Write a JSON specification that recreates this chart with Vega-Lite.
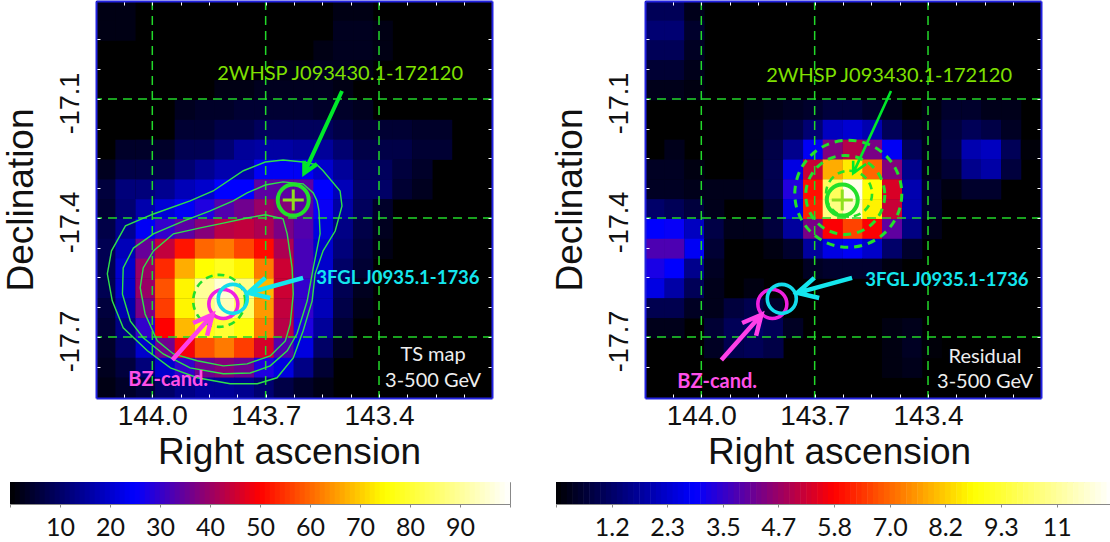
{"$schema":"https://vega.github.io/schema/vega-lite/v6.json","padding":{"left":0,"top":-2,"right":0,"bottom":0},"background":"white","spacing":9,"resolve":{"scale":{"color":"independent"}},
"config":{"view":{"stroke":null},"axis":{"grid":false,"labelFontSize":28,"labelFont":"Liberation Sans","titleFont":"Liberation Sans","titleFontSize":37,"titleFontWeight":"normal","labelColor":"#111","titleColor":"#111","labelOverlap":false,"labelBound":false,"labelFlush":false}},
"datasets":{
"ts":[
{"ra":144.123,"dec":-16.878,"v":2},{"ra":144.071,"dec":-16.878,"v":2},{"ra":143.495,"dec":-16.878,"v":2},{"ra":143.442,"dec":-16.878,"v":2},
{"ra":144.123,"dec":-16.928,"v":2},{"ra":144.071,"dec":-16.928,"v":2},{"ra":143.495,"dec":-16.928,"v":3},{"ra":143.442,"dec":-16.928,"v":3},{"ra":143.390,"dec":-16.928,"v":2},
{"ra":143.547,"dec":-16.978,"v":2},{"ra":143.495,"dec":-16.978,"v":3},{"ra":143.442,"dec":-16.978,"v":3},{"ra":143.390,"dec":-16.978,"v":2},
{"ra":143.652,"dec":-17.028,"v":2},{"ra":143.599,"dec":-17.028,"v":2},{"ra":143.547,"dec":-17.028,"v":3},{"ra":143.495,"dec":-17.028,"v":3},{"ra":143.442,"dec":-17.028,"v":2},
{"ra":143.809,"dec":-17.078,"v":2},{"ra":143.757,"dec":-17.078,"v":2},{"ra":143.704,"dec":-17.078,"v":3},{"ra":143.652,"dec":-17.078,"v":3},{"ra":143.599,"dec":-17.078,"v":3},{"ra":143.547,"dec":-17.078,"v":3},{"ra":143.495,"dec":-17.078,"v":2},
{"ra":143.914,"dec":-17.128,"v":3},{"ra":143.861,"dec":-17.128,"v":4},{"ra":143.809,"dec":-17.128,"v":4},{"ra":143.757,"dec":-17.128,"v":5},{"ra":143.704,"dec":-17.128,"v":5},{"ra":143.652,"dec":-17.128,"v":5},{"ra":143.599,"dec":-17.128,"v":5},{"ra":143.547,"dec":-17.128,"v":4},{"ra":143.495,"dec":-17.128,"v":4},{"ra":143.442,"dec":-17.128,"v":3},
{"ra":143.914,"dec":-17.178,"v":5},{"ra":143.861,"dec":-17.178,"v":5},{"ra":143.809,"dec":-17.178,"v":7},{"ra":143.757,"dec":-17.178,"v":7},{"ra":143.704,"dec":-17.178,"v":9},{"ra":143.652,"dec":-17.178,"v":9},{"ra":143.599,"dec":-17.178,"v":9},{"ra":143.547,"dec":-17.178,"v":9},{"ra":143.495,"dec":-17.178,"v":7},{"ra":143.442,"dec":-17.178,"v":5},{"ra":143.390,"dec":-17.178,"v":5},{"ra":143.338,"dec":-17.178,"v":5},{"ra":143.285,"dec":-17.178,"v":4},{"ra":143.233,"dec":-17.178,"v":4},
{"ra":144.071,"dec":-17.228,"v":4},{"ra":144.018,"dec":-17.228,"v":4},{"ra":143.966,"dec":-17.228,"v":4},{"ra":143.914,"dec":-17.228,"v":8},{"ra":143.861,"dec":-17.228,"v":8},{"ra":143.809,"dec":-17.228,"v":11},{"ra":143.757,"dec":-17.228,"v":15},{"ra":143.704,"dec":-17.228,"v":16},{"ra":143.652,"dec":-17.228,"v":16},{"ra":143.599,"dec":-17.228,"v":15},{"ra":143.547,"dec":-17.228,"v":15},{"ra":143.495,"dec":-17.228,"v":11},{"ra":143.442,"dec":-17.228,"v":7},{"ra":143.390,"dec":-17.228,"v":7},{"ra":143.338,"dec":-17.228,"v":7},{"ra":143.285,"dec":-17.228,"v":5},{"ra":143.233,"dec":-17.228,"v":5},
{"ra":144.123,"dec":-17.278,"v":3},{"ra":144.071,"dec":-17.278,"v":7},{"ra":144.018,"dec":-17.278,"v":7},{"ra":143.966,"dec":-17.278,"v":7},{"ra":143.914,"dec":-17.278,"v":11},{"ra":143.861,"dec":-17.278,"v":14},{"ra":143.809,"dec":-17.278,"v":17},{"ra":143.757,"dec":-17.278,"v":17},{"ra":143.704,"dec":-17.278,"v":24},{"ra":143.652,"dec":-17.278,"v":24},{"ra":143.599,"dec":-17.278,"v":24},{"ra":143.547,"dec":-17.278,"v":20},{"ra":143.495,"dec":-17.278,"v":15},{"ra":143.442,"dec":-17.278,"v":9},{"ra":143.390,"dec":-17.278,"v":9},{"ra":143.338,"dec":-17.278,"v":6},{"ra":143.285,"dec":-17.278,"v":4},
{"ra":144.123,"dec":-17.328,"v":6},{"ra":144.071,"dec":-17.328,"v":12},{"ra":144.018,"dec":-17.328,"v":12},{"ra":143.966,"dec":-17.328,"v":14},{"ra":143.914,"dec":-17.328,"v":18},{"ra":143.861,"dec":-17.328,"v":20},{"ra":143.809,"dec":-17.328,"v":25},{"ra":143.757,"dec":-17.328,"v":25},{"ra":143.704,"dec":-17.328,"v":34},{"ra":143.652,"dec":-17.328,"v":34},{"ra":143.599,"dec":-17.328,"v":34},{"ra":143.547,"dec":-17.328,"v":25},{"ra":143.495,"dec":-17.328,"v":18},{"ra":143.442,"dec":-17.328,"v":10},{"ra":143.390,"dec":-17.328,"v":10},{"ra":143.338,"dec":-17.328,"v":5},{"ra":143.285,"dec":-17.328,"v":3},
{"ra":144.123,"dec":-17.378,"v":5},{"ra":144.071,"dec":-17.378,"v":11},{"ra":144.018,"dec":-17.378,"v":17},{"ra":143.966,"dec":-17.378,"v":21},{"ra":143.914,"dec":-17.378,"v":24},{"ra":143.861,"dec":-17.378,"v":28},{"ra":143.809,"dec":-17.378,"v":33},{"ra":143.757,"dec":-17.378,"v":36},{"ra":143.704,"dec":-17.378,"v":40},{"ra":143.652,"dec":-17.378,"v":38},{"ra":143.599,"dec":-17.378,"v":34},{"ra":143.547,"dec":-17.378,"v":26},{"ra":143.495,"dec":-17.378,"v":16},{"ra":143.442,"dec":-17.378,"v":9},{"ra":143.390,"dec":-17.378,"v":4},
{"ra":144.123,"dec":-17.428,"v":7},{"ra":144.071,"dec":-17.428,"v":14},{"ra":144.018,"dec":-17.428,"v":24},{"ra":143.966,"dec":-17.428,"v":30},{"ra":143.914,"dec":-17.428,"v":34},{"ra":143.861,"dec":-17.428,"v":38},{"ra":143.809,"dec":-17.428,"v":43},{"ra":143.757,"dec":-17.428,"v":44},{"ra":143.704,"dec":-17.428,"v":42},{"ra":143.652,"dec":-17.428,"v":37},{"ra":143.599,"dec":-17.428,"v":33},{"ra":143.547,"dec":-17.428,"v":22},{"ra":143.495,"dec":-17.428,"v":13},{"ra":143.442,"dec":-17.428,"v":7},{"ra":143.390,"dec":-17.428,"v":3},
{"ra":144.123,"dec":-17.478,"v":8},{"ra":144.071,"dec":-17.478,"v":18},{"ra":144.018,"dec":-17.478,"v":35},{"ra":143.966,"dec":-17.478,"v":44},{"ra":143.914,"dec":-17.478,"v":52},{"ra":143.861,"dec":-17.478,"v":60},{"ra":143.809,"dec":-17.478,"v":62},{"ra":143.757,"dec":-17.478,"v":57},{"ra":143.704,"dec":-17.478,"v":51},{"ra":143.652,"dec":-17.478,"v":42},{"ra":143.599,"dec":-17.478,"v":32},{"ra":143.547,"dec":-17.478,"v":20},{"ra":143.495,"dec":-17.478,"v":12},{"ra":143.442,"dec":-17.478,"v":6},{"ra":143.390,"dec":-17.478,"v":2},
{"ra":144.123,"dec":-17.528,"v":8},{"ra":144.071,"dec":-17.528,"v":20},{"ra":144.018,"dec":-17.528,"v":40},{"ra":143.966,"dec":-17.528,"v":54},{"ra":143.914,"dec":-17.528,"v":67},{"ra":143.861,"dec":-17.528,"v":75},{"ra":143.809,"dec":-17.528,"v":78},{"ra":143.757,"dec":-17.528,"v":74},{"ra":143.704,"dec":-17.528,"v":62},{"ra":143.652,"dec":-17.528,"v":45},{"ra":143.599,"dec":-17.528,"v":32},{"ra":143.547,"dec":-17.528,"v":20},{"ra":143.495,"dec":-17.528,"v":10},{"ra":143.442,"dec":-17.528,"v":5},
{"ra":144.123,"dec":-17.578,"v":8},{"ra":144.071,"dec":-17.578,"v":20},{"ra":144.018,"dec":-17.578,"v":40},{"ra":143.966,"dec":-17.578,"v":58},{"ra":143.914,"dec":-17.578,"v":74},{"ra":143.861,"dec":-17.578,"v":90},{"ra":143.809,"dec":-17.578,"v":96},{"ra":143.757,"dec":-17.578,"v":88},{"ra":143.704,"dec":-17.578,"v":68},{"ra":143.652,"dec":-17.578,"v":45},{"ra":143.599,"dec":-17.578,"v":30},{"ra":143.547,"dec":-17.578,"v":18},{"ra":143.495,"dec":-17.578,"v":8},{"ra":143.442,"dec":-17.578,"v":3},
{"ra":144.123,"dec":-17.628,"v":6},{"ra":144.071,"dec":-17.628,"v":17},{"ra":144.018,"dec":-17.628,"v":37},{"ra":143.966,"dec":-17.628,"v":56},{"ra":143.914,"dec":-17.628,"v":74},{"ra":143.861,"dec":-17.628,"v":88},{"ra":143.809,"dec":-17.628,"v":93},{"ra":143.757,"dec":-17.628,"v":85},{"ra":143.704,"dec":-17.628,"v":65},{"ra":143.652,"dec":-17.628,"v":44},{"ra":143.599,"dec":-17.628,"v":30},{"ra":143.547,"dec":-17.628,"v":18},{"ra":143.495,"dec":-17.628,"v":7},{"ra":143.442,"dec":-17.628,"v":2},
{"ra":144.123,"dec":-17.678,"v":5},{"ra":144.071,"dec":-17.678,"v":13},{"ra":144.018,"dec":-17.678,"v":30},{"ra":143.966,"dec":-17.678,"v":50},{"ra":143.914,"dec":-17.678,"v":68},{"ra":143.861,"dec":-17.678,"v":77},{"ra":143.809,"dec":-17.678,"v":80},{"ra":143.757,"dec":-17.678,"v":76},{"ra":143.704,"dec":-17.678,"v":62},{"ra":143.652,"dec":-17.678,"v":43},{"ra":143.599,"dec":-17.678,"v":28},{"ra":143.547,"dec":-17.678,"v":15},{"ra":143.495,"dec":-17.678,"v":5},
{"ra":144.123,"dec":-17.728,"v":4},{"ra":144.071,"dec":-17.728,"v":10},{"ra":144.018,"dec":-17.728,"v":20},{"ra":143.966,"dec":-17.728,"v":36},{"ra":143.914,"dec":-17.728,"v":49},{"ra":143.861,"dec":-17.728,"v":58},{"ra":143.809,"dec":-17.728,"v":62},{"ra":143.757,"dec":-17.728,"v":56},{"ra":143.704,"dec":-17.728,"v":46},{"ra":143.652,"dec":-17.728,"v":33},{"ra":143.599,"dec":-17.728,"v":22},{"ra":143.547,"dec":-17.728,"v":10},{"ra":143.495,"dec":-17.728,"v":3},
{"ra":144.123,"dec":-17.778,"v":3},{"ra":144.071,"dec":-17.778,"v":6},{"ra":144.018,"dec":-17.778,"v":12},{"ra":143.966,"dec":-17.778,"v":20},{"ra":143.914,"dec":-17.778,"v":30},{"ra":143.861,"dec":-17.778,"v":36},{"ra":143.809,"dec":-17.778,"v":38},{"ra":143.757,"dec":-17.778,"v":36},{"ra":143.704,"dec":-17.778,"v":28},{"ra":143.652,"dec":-17.778,"v":22},{"ra":143.599,"dec":-17.778,"v":13},{"ra":143.547,"dec":-17.778,"v":5},
{"ra":144.123,"dec":-17.828,"v":2},{"ra":144.071,"dec":-17.828,"v":4},{"ra":144.018,"dec":-17.828,"v":6},{"ra":143.966,"dec":-17.828,"v":10},{"ra":143.914,"dec":-17.828,"v":13},{"ra":143.861,"dec":-17.828,"v":15},{"ra":143.809,"dec":-17.828,"v":15},{"ra":143.757,"dec":-17.828,"v":14},{"ra":143.704,"dec":-17.828,"v":11},{"ra":143.652,"dec":-17.828,"v":7},{"ra":143.599,"dec":-17.828,"v":4},{"ra":143.547,"dec":-17.828,"v":2}
],
"res":[
{"ra":144.123,"dec":-16.878,"v":1.0},{"ra":144.071,"dec":-16.878,"v":1.0},{"ra":144.018,"dec":-16.878,"v":0.3},
{"ra":144.123,"dec":-16.928,"v":1.3},{"ra":144.071,"dec":-16.928,"v":1.3},{"ra":144.018,"dec":-16.928,"v":0.5},
{"ra":144.123,"dec":-16.978,"v":1.0},{"ra":144.071,"dec":-16.978,"v":1.0},{"ra":144.018,"dec":-16.978,"v":0.4},
{"ra":144.123,"dec":-17.028,"v":0.6},{"ra":144.071,"dec":-17.028,"v":0.6},{"ra":144.018,"dec":-17.028,"v":0.3},
{"ra":144.123,"dec":-17.078,"v":0.3},{"ra":144.071,"dec":-17.078,"v":0.3},{"ra":144.018,"dec":-17.078,"v":0.2},
{"ra":143.861,"dec":-17.128,"v":0.2},{"ra":143.809,"dec":-17.128,"v":0.3},{"ra":143.757,"dec":-17.128,"v":0.4},{"ra":143.704,"dec":-17.128,"v":0.5},{"ra":143.652,"dec":-17.128,"v":0.7},{"ra":143.599,"dec":-17.128,"v":0.7},{"ra":143.547,"dec":-17.128,"v":0.5},{"ra":143.495,"dec":-17.128,"v":0.3},{"ra":143.390,"dec":-17.128,"v":0.2},{"ra":143.338,"dec":-17.128,"v":0.5},{"ra":143.285,"dec":-17.128,"v":0.5},{"ra":143.233,"dec":-17.128,"v":0.3},{"ra":143.180,"dec":-17.128,"v":0.3},
{"ra":143.861,"dec":-17.178,"v":0.3},{"ra":143.809,"dec":-17.178,"v":0.6},{"ra":143.757,"dec":-17.178,"v":0.8},{"ra":143.704,"dec":-17.178,"v":1.3},{"ra":143.652,"dec":-17.178,"v":2.2},{"ra":143.599,"dec":-17.178,"v":2.4},{"ra":143.547,"dec":-17.178,"v":2.0},{"ra":143.495,"dec":-17.178,"v":1.0},{"ra":143.442,"dec":-17.178,"v":0.5},{"ra":143.390,"dec":-17.178,"v":0.3},{"ra":143.338,"dec":-17.178,"v":0.7},{"ra":143.285,"dec":-17.178,"v":1.0},{"ra":143.233,"dec":-17.178,"v":0.8},{"ra":143.180,"dec":-17.178,"v":0.4},
{"ra":144.071,"dec":-17.228,"v":0.3},{"ra":143.861,"dec":-17.228,"v":0.3},{"ra":143.809,"dec":-17.228,"v":0.8},{"ra":143.757,"dec":-17.228,"v":1.6},{"ra":143.704,"dec":-17.228,"v":2.8},{"ra":143.652,"dec":-17.228,"v":4.4},{"ra":143.599,"dec":-17.228,"v":5.0},{"ra":143.547,"dec":-17.228,"v":4.3},{"ra":143.495,"dec":-17.228,"v":2.8},{"ra":143.442,"dec":-17.228,"v":1.0},{"ra":143.390,"dec":-17.228,"v":0.3},{"ra":143.338,"dec":-17.228,"v":0.8},{"ra":143.285,"dec":-17.228,"v":2.0},{"ra":143.233,"dec":-17.228,"v":2.2},{"ra":143.180,"dec":-17.228,"v":1.0},{"ra":143.128,"dec":-17.228,"v":0.1},
{"ra":144.123,"dec":-17.278,"v":0.4},{"ra":144.071,"dec":-17.278,"v":0.4},{"ra":144.018,"dec":-17.278,"v":0.2},{"ra":143.861,"dec":-17.278,"v":0.3},{"ra":143.809,"dec":-17.278,"v":0.9},{"ra":143.757,"dec":-17.278,"v":2.6},{"ra":143.704,"dec":-17.278,"v":5.2},{"ra":143.652,"dec":-17.278,"v":7.8},{"ra":143.599,"dec":-17.278,"v":8.5},{"ra":143.547,"dec":-17.278,"v":7.0},{"ra":143.495,"dec":-17.278,"v":4.4},{"ra":143.442,"dec":-17.278,"v":1.6},{"ra":143.390,"dec":-17.278,"v":0.3},{"ra":143.338,"dec":-17.278,"v":0.6},{"ra":143.285,"dec":-17.278,"v":1.6},{"ra":143.233,"dec":-17.278,"v":1.9},{"ra":143.180,"dec":-17.278,"v":0.7},
{"ra":144.123,"dec":-17.328,"v":0.4},{"ra":144.071,"dec":-17.328,"v":0.4},{"ra":144.018,"dec":-17.328,"v":0.3},{"ra":143.966,"dec":-17.328,"v":0.3},{"ra":143.914,"dec":-17.328,"v":0.3},{"ra":143.861,"dec":-17.328,"v":0.4},{"ra":143.809,"dec":-17.328,"v":0.9},{"ra":143.757,"dec":-17.328,"v":3.3},{"ra":143.704,"dec":-17.328,"v":6.0},{"ra":143.652,"dec":-17.328,"v":9.8},{"ra":143.599,"dec":-17.328,"v":11.4},{"ra":143.547,"dec":-17.328,"v":8.8},{"ra":143.495,"dec":-17.328,"v":5.4},{"ra":143.442,"dec":-17.328,"v":2.0},{"ra":143.390,"dec":-17.328,"v":0.5},{"ra":143.338,"dec":-17.328,"v":0.2},{"ra":143.285,"dec":-17.328,"v":0.5},{"ra":143.233,"dec":-17.328,"v":0.5},
{"ra":144.123,"dec":-17.378,"v":1.2},{"ra":144.071,"dec":-17.378,"v":1.0},{"ra":144.018,"dec":-17.378,"v":0.7},{"ra":143.966,"dec":-17.378,"v":0.3},{"ra":143.809,"dec":-17.378,"v":0.6},{"ra":143.757,"dec":-17.378,"v":2.6},{"ra":143.704,"dec":-17.378,"v":6.2},{"ra":143.652,"dec":-17.378,"v":10.2},{"ra":143.599,"dec":-17.378,"v":11.0},{"ra":143.547,"dec":-17.378,"v":8.6},{"ra":143.495,"dec":-17.378,"v":5.2},{"ra":143.442,"dec":-17.378,"v":2.0},{"ra":143.390,"dec":-17.378,"v":0.5},
{"ra":144.123,"dec":-17.428,"v":2.9},{"ra":144.071,"dec":-17.428,"v":3.0},{"ra":144.018,"dec":-17.428,"v":2.2},{"ra":143.966,"dec":-17.428,"v":0.8},{"ra":143.914,"dec":-17.428,"v":0.3},{"ra":143.861,"dec":-17.428,"v":0.3},{"ra":143.809,"dec":-17.428,"v":0.7},{"ra":143.757,"dec":-17.428,"v":1.8},{"ra":143.704,"dec":-17.428,"v":4.3},{"ra":143.652,"dec":-17.428,"v":5.8},{"ra":143.599,"dec":-17.428,"v":6.6},{"ra":143.547,"dec":-17.428,"v":5.8},{"ra":143.495,"dec":-17.428,"v":4.0},{"ra":143.442,"dec":-17.428,"v":1.5},{"ra":143.390,"dec":-17.428,"v":0.3},
{"ra":144.123,"dec":-17.478,"v":3.8},{"ra":144.071,"dec":-17.478,"v":3.8},{"ra":144.018,"dec":-17.478,"v":2.8},{"ra":143.966,"dec":-17.478,"v":0.6},{"ra":143.809,"dec":-17.478,"v":0.2},{"ra":143.757,"dec":-17.478,"v":0.5},{"ra":143.704,"dec":-17.478,"v":1.8},{"ra":143.652,"dec":-17.478,"v":2.6},{"ra":143.599,"dec":-17.478,"v":2.8},{"ra":143.547,"dec":-17.478,"v":2.3},{"ra":143.495,"dec":-17.478,"v":1.2},{"ra":143.442,"dec":-17.478,"v":0.5},
{"ra":144.123,"dec":-17.528,"v":3.2},{"ra":144.071,"dec":-17.528,"v":2.9},{"ra":144.018,"dec":-17.528,"v":1.6},{"ra":143.966,"dec":-17.528,"v":0.4},{"ra":143.704,"dec":-17.528,"v":0.4},{"ra":143.652,"dec":-17.528,"v":0.5},{"ra":143.599,"dec":-17.528,"v":0.5},{"ra":143.547,"dec":-17.528,"v":0.5},{"ra":143.495,"dec":-17.528,"v":0.2},
{"ra":144.123,"dec":-17.578,"v":2.6},{"ra":144.071,"dec":-17.578,"v":1.9},{"ra":144.018,"dec":-17.578,"v":1.0},{"ra":143.966,"dec":-17.578,"v":0.3},{"ra":143.861,"dec":-17.578,"v":0.2},
{"ra":144.123,"dec":-17.628,"v":0.9},{"ra":144.071,"dec":-17.628,"v":0.9},{"ra":144.018,"dec":-17.628,"v":0.4},{"ra":143.966,"dec":-17.628,"v":0.3},{"ra":143.914,"dec":-17.628,"v":0.7},{"ra":143.861,"dec":-17.628,"v":0.9},{"ra":143.809,"dec":-17.628,"v":0.5},
{"ra":144.123,"dec":-17.678,"v":0.3},{"ra":144.071,"dec":-17.678,"v":0.3},{"ra":143.966,"dec":-17.678,"v":0.6},{"ra":143.914,"dec":-17.678,"v":1.0},{"ra":143.861,"dec":-17.678,"v":1.2},{"ra":143.809,"dec":-17.678,"v":1.0},{"ra":143.757,"dec":-17.678,"v":0.4},{"ra":143.495,"dec":-17.678,"v":0.2},{"ra":143.442,"dec":-17.678,"v":0.3},
{"ra":143.966,"dec":-17.728,"v":0.4},{"ra":143.914,"dec":-17.728,"v":0.9},{"ra":143.861,"dec":-17.728,"v":1.0},{"ra":143.809,"dec":-17.728,"v":0.8},{"ra":143.495,"dec":-17.728,"v":0.2},{"ra":143.442,"dec":-17.728,"v":0.4},{"ra":143.390,"dec":-17.728,"v":0.1},
{"ra":143.495,"dec":-17.778,"v":0.2},{"ra":143.442,"dec":-17.778,"v":0.3}
],
"contours":[
{"c":"a","o":1,"ra":143.601,"dec":-17.259},{"c":"a","o":2,"ra":143.654,"dec":-17.254},{"c":"a","o":3,"ra":143.701,"dec":-17.259},{"c":"a","o":4,"ra":143.759,"dec":-17.281},{"c":"a","o":5,"ra":143.839,"dec":-17.332},{"c":"a","o":6,"ra":143.900,"dec":-17.357},{"c":"a","o":7,"ra":143.997,"dec":-17.390},{"c":"a","o":8,"ra":144.071,"dec":-17.420},{"c":"a","o":9,"ra":144.108,"dec":-17.483},{"c":"a","o":10,"ra":144.119,"dec":-17.541},{"c":"a","o":11,"ra":144.106,"dec":-17.609},{"c":"a","o":12,"ra":144.077,"dec":-17.677},{"c":"a","o":13,"ra":144.013,"dec":-17.735},{"c":"a","o":14,"ra":143.952,"dec":-17.778},{"c":"a","o":15,"ra":143.881,"dec":-17.803},{"c":"a","o":16,"ra":143.794,"dec":-17.818},{"c":"a","o":17,"ra":143.722,"dec":-17.818},{"c":"a","o":18,"ra":143.670,"dec":-17.803},{"c":"a","o":19,"ra":143.627,"dec":-17.753},{"c":"a","o":20,"ra":143.601,"dec":-17.685},{"c":"a","o":21,"ra":143.577,"dec":-17.609},{"c":"a","o":22,"ra":143.569,"dec":-17.541},{"c":"a","o":23,"ra":143.548,"dec":-17.483},{"c":"a","o":24,"ra":143.516,"dec":-17.433},{"c":"a","o":25,"ra":143.498,"dec":-17.370},{"c":"a","o":26,"ra":143.503,"dec":-17.332},{"c":"a","o":27,"ra":143.548,"dec":-17.281},{"c":"a","o":28,"ra":143.564,"dec":-17.266},{"c":"a","o":29,"ra":143.601,"dec":-17.259},
{"c":"b","o":1,"ra":143.564,"dec":-17.357},{"c":"b","o":2,"ra":143.574,"dec":-17.337},{"c":"b","o":3,"ra":143.601,"dec":-17.314},{"c":"b","o":4,"ra":143.654,"dec":-17.309},{"c":"b","o":5,"ra":143.701,"dec":-17.317},{"c":"b","o":6,"ra":143.749,"dec":-17.337},{"c":"b","o":7,"ra":143.786,"dec":-17.357},{"c":"b","o":8,"ra":143.847,"dec":-17.382},{"c":"b","o":9,"ra":143.918,"dec":-17.408},{"c":"b","o":10,"ra":143.997,"dec":-17.440},{"c":"b","o":11,"ra":144.050,"dec":-17.476},{"c":"b","o":12,"ra":144.077,"dec":-17.526},{"c":"b","o":13,"ra":144.079,"dec":-17.592},{"c":"b","o":14,"ra":144.058,"dec":-17.660},{"c":"b","o":15,"ra":144.024,"dec":-17.702},{"c":"b","o":16,"ra":143.971,"dec":-17.743},{"c":"b","o":17,"ra":143.900,"dec":-17.778},{"c":"b","o":18,"ra":143.812,"dec":-17.793},{"c":"b","o":19,"ra":143.741,"dec":-17.791},{"c":"b","o":20,"ra":143.688,"dec":-17.773},{"c":"b","o":21,"ra":143.643,"dec":-17.735},{"c":"b","o":22,"ra":143.617,"dec":-17.692},{"c":"b","o":23,"ra":143.590,"dec":-17.609},{"c":"b","o":24,"ra":143.574,"dec":-17.526},{"c":"b","o":25,"ra":143.556,"dec":-17.440},{"c":"b","o":26,"ra":143.559,"dec":-17.382},{"c":"b","o":27,"ra":143.564,"dec":-17.357},
{"c":"c","o":1,"ra":143.701,"dec":-17.392},{"c":"c","o":2,"ra":143.654,"dec":-17.402},{"c":"c","o":3,"ra":143.643,"dec":-17.440},{"c":"c","o":4,"ra":143.630,"dec":-17.526},{"c":"c","o":5,"ra":143.627,"dec":-17.592},{"c":"c","o":6,"ra":143.635,"dec":-17.667},{"c":"c","o":7,"ra":143.648,"dec":-17.710},{"c":"c","o":8,"ra":143.688,"dec":-17.748},{"c":"c","o":9,"ra":143.749,"dec":-17.768},{"c":"c","o":10,"ra":143.812,"dec":-17.773},{"c":"c","o":11,"ra":143.881,"dec":-17.760},{"c":"c","o":12,"ra":143.944,"dec":-17.743},{"c":"c","o":13,"ra":143.987,"dec":-17.710},{"c":"c","o":14,"ra":144.019,"dec":-17.642},{"c":"c","o":15,"ra":144.032,"dec":-17.576},{"c":"c","o":16,"ra":144.024,"dec":-17.526},{"c":"c","o":17,"ra":143.997,"dec":-17.483},{"c":"c","o":18,"ra":143.944,"dec":-17.440},{"c":"c","o":19,"ra":143.873,"dec":-17.425},{"c":"c","o":20,"ra":143.812,"dec":-17.413},{"c":"c","o":21,"ra":143.749,"dec":-17.400},{"c":"c","o":22,"ra":143.701,"dec":-17.392}
],
"greenArrow":[{"o":1,"ra":143.498,"dec":-17.080},{"o":2,"ra":143.598,"dec":-17.287},{"o":3,"ra":143.598,"dec":-17.256},{"o":4,"ra":143.598,"dec":-17.287},{"o":5,"ra":143.564,"dec":-17.264}],
"cyanArrow":[{"o":1,"ra":143.601,"dec":-17.551},{"o":2,"ra":143.746,"dec":-17.589},{"o":3,"ra":143.701,"dec":-17.551},{"o":4,"ra":143.746,"dec":-17.589},{"o":5,"ra":143.688,"dec":-17.602}],
"magentaArrow":[{"o":1,"ra":143.947,"dec":-17.758},{"o":2,"ra":143.841,"dec":-17.644},{"o":3,"ra":143.892,"dec":-17.665},{"o":4,"ra":143.841,"dec":-17.644},{"o":5,"ra":143.855,"dec":-17.697}],
"cbL":[{"v":0.5},{"v":1.5},{"v":2.5},{"v":3.5},{"v":4.5},{"v":5.5},{"v":6.5},{"v":7.5},{"v":8.5},{"v":9.5},{"v":10.5},{"v":11.5},{"v":12.5},{"v":13.5},{"v":14.5},{"v":15.5},{"v":16.5},{"v":17.5},{"v":18.5},{"v":19.5},{"v":20.5},{"v":21.5},{"v":22.5},{"v":23.5},{"v":24.5},{"v":25.5},{"v":26.5},{"v":27.5},{"v":28.5},{"v":29.5},{"v":30.5},{"v":31.5},{"v":32.5},{"v":33.5},{"v":34.5},{"v":35.5},{"v":36.5},{"v":37.5},{"v":38.5},{"v":39.5},{"v":40.5},{"v":41.5},{"v":42.5},{"v":43.5},{"v":44.5},{"v":45.5},{"v":46.5},{"v":47.5},{"v":48.5},{"v":49.5},{"v":50.5},{"v":51.5},{"v":52.5},{"v":53.5},{"v":54.5},{"v":55.5},{"v":56.5},{"v":57.5},{"v":58.5},{"v":59.5},{"v":60.5},{"v":61.5},{"v":62.5},{"v":63.5},{"v":64.5},{"v":65.5},{"v":66.5},{"v":67.5},{"v":68.5},{"v":69.5},{"v":70.5},{"v":71.5},{"v":72.5},{"v":73.5},{"v":74.5},{"v":75.5},{"v":76.5},{"v":77.5},{"v":78.5},{"v":79.5},{"v":80.5},{"v":81.5},{"v":82.5},{"v":83.5},{"v":84.5},{"v":85.5},{"v":86.5},{"v":87.5},{"v":88.5},{"v":89.5},{"v":90.5},{"v":91.5},{"v":92.5},{"v":93.5},{"v":94.5},{"v":95.5},{"v":96.5},{"v":97.5},{"v":98.5},{"v":99.5}],
"cbR":[{"v":0.06},{"v":0.17},{"v":0.29},{"v":0.41},{"v":0.52},{"v":0.64},{"v":0.76},{"v":0.87},{"v":0.99},{"v":1.11},{"v":1.22},{"v":1.34},{"v":1.46},{"v":1.57},{"v":1.69},{"v":1.81},{"v":1.92},{"v":2.04},{"v":2.16},{"v":2.27},{"v":2.39},{"v":2.51},{"v":2.62},{"v":2.74},{"v":2.86},{"v":2.97},{"v":3.09},{"v":3.21},{"v":3.32},{"v":3.44},{"v":3.56},{"v":3.67},{"v":3.79},{"v":3.91},{"v":4.02},{"v":4.14},{"v":4.26},{"v":4.37},{"v":4.49},{"v":4.61},{"v":4.72},{"v":4.84},{"v":4.96},{"v":5.07},{"v":5.19},{"v":5.31},{"v":5.42},{"v":5.54},{"v":5.66},{"v":5.77},{"v":5.89},{"v":6.01},{"v":6.12},{"v":6.24},{"v":6.36},{"v":6.47},{"v":6.59},{"v":6.71},{"v":6.82},{"v":6.94},{"v":7.06},{"v":7.17},{"v":7.29},{"v":7.41},{"v":7.52},{"v":7.64},{"v":7.76},{"v":7.87},{"v":7.99},{"v":8.11},{"v":8.22},{"v":8.34},{"v":8.46},{"v":8.57},{"v":8.69},{"v":8.81},{"v":8.92},{"v":9.04},{"v":9.16},{"v":9.27},{"v":9.39},{"v":9.51},{"v":9.62},{"v":9.74},{"v":9.86},{"v":9.97},{"v":10.09},{"v":10.21},{"v":10.32},{"v":10.44},{"v":10.56},{"v":10.67},{"v":10.79},{"v":10.91},{"v":11.02},{"v":11.14},{"v":11.26},{"v":11.37},{"v":11.49},{"v":11.61}]
},
"vconcat":[
{"spacing":-5,"resolve":{"scale":{"color":"independent"}},"hconcat":[
{"width":1,"height":1,"data":{"values":[{"a":1}]},"mark":{"type":"point","opacity":0},"encoding":{}},
{"spacing":58,"resolve":{"scale":{"color":"independent"}},"hconcat":[
{"width":396,"height":397,"view":{"fill":"#000000"},"resolve":{"axis":{"x":"independent","y":"independent"}},"layer":[
{"data":{"name":"ts"},"mark":{"type":"rect","width":20.2,"height":20.2,"clip":true},"encoding":{
"x":{"field":"ra","type":"quantitative","scale":{"domain":[144.149,143.101]},"axis":{"orient":"bottom","title":"Right ascension","titleX":193,"titlePadding":4,"labelPadding":8,"zindex":1,"domainColor":"#2222e0","domainWidth":2,"tickColor":"white","tickSize":-4,"values":[144.075,144,143.925,143.85,143.775,143.7,143.625,143.55,143.475,143.4,143.325,143.25,143.175],"labelExpr":"abs(datum.value-144)<0.001?'144.0':abs(datum.value-143.7)<0.001?'143.7':abs(datum.value-143.4)<0.001?'143.4':''"}},
"y":{"field":"dec","type":"quantitative","scale":{"domain":[-17.854,-16.853]},"axis":{"orient":"left","title":"Declination","titlePadding":16,"labelPadding":16,"labelFontSize":27,"labelAngle":-90,"labelAlign":"center","labelBaseline":"bottom","labelOffset":4,"zindex":1,"domainColor":"#2222e0","domainWidth":2,"tickColor":"white","tickSize":-4,"values":[-16.95,-17.025,-17.1,-17.175,-17.25,-17.325,-17.4,-17.475,-17.55,-17.625,-17.7,-17.775],"labelExpr":"abs(datum.value+17.1)<0.001?'-17.1':abs(datum.value+17.4)<0.001?'-17.4':abs(datum.value+17.7)<0.001?'-17.7':''"}},
"color":{"field":"v","type":"quantitative","legend":null,"scale":{"domain":[0,25,50,75,100],"range":["#000000","#0000ff","#ff0000","#ffff00","#ffffff"],"interpolate":"rgb"}}}},
{"data":{"values":[{"ra":144.0},{"ra":143.7},{"ra":143.4}]},"mark":{"type":"rule","color":"#22d82a","strokeWidth":1.5,"strokeDash":[9,6]},"encoding":{"x":{"field":"ra","type":"quantitative","scale":{"domain":[144.149,143.101]},"axis":{"orient":"top","title":null,"labels":false,"zindex":1,"domainColor":"#2222e0","domainWidth":2,"tickColor":"white","tickSize":-4,"values":[144.075,144,143.925,143.85,143.775,143.7,143.625,143.55,143.475,143.4,143.325,143.25,143.175]}}}},
{"data":{"values":[{"dec":-17.1},{"dec":-17.4},{"dec":-17.7}]},"mark":{"type":"rule","color":"#22d82a","strokeWidth":1.5,"strokeDash":[9,6]},"encoding":{"y":{"field":"dec","type":"quantitative","scale":{"domain":[-17.854,-16.853]},"axis":{"orient":"right","title":null,"labels":false,"zindex":1,"domainColor":"#2222e0","domainWidth":2,"tickColor":"white","tickSize":-4,"values":[-16.95,-17.025,-17.1,-17.175,-17.25,-17.325,-17.4,-17.475,-17.55,-17.625,-17.7,-17.775]}}}},
{"data":{"name":"contours"},"mark":{"type":"line","color":"#2ee04a","strokeWidth":1.4,"clip":true},"encoding":{"x":{"field":"ra","type":"quantitative","scale":{"domain":[144.149,143.101]},"axis":null},"y":{"field":"dec","type":"quantitative","scale":{"domain":[-17.854,-16.853]},"axis":null},"detail":{"field":"c"},"order":{"field":"o"}}},
{"data":{"values":[{"ra":143.823,"dec":-17.609}]},"mark":{"type":"point","filled":false,"size":2704,"color":"#22e02a","strokeWidth":2.6,"strokeDash":[7,5],"opacity":1},"encoding":{"x":{"field":"ra","type":"quantitative","scale":{"domain":[144.149,143.101]},"axis":null},"y":{"field":"dec","type":"quantitative","scale":{"domain":[-17.854,-16.853]},"axis":null}}},
{"data":{"values":[{"ra":143.627,"dec":-17.355}]},"mark":{"type":"point","filled":false,"size":961,"color":"#22e02a","strokeWidth":4,"opacity":1},"encoding":{"x":{"field":"ra","type":"quantitative","scale":{"domain":[144.149,143.101]},"axis":null},"y":{"field":"dec","type":"quantitative","scale":{"domain":[-17.854,-16.853]},"axis":null}}},
{"data":{"values":[{"ra":143.627,"dec":-17.355}]},"mark":{"type":"point","filled":false,"shape":"M-1,0H1M0,-1V1","size":441,"color":"#8fe01e","strokeWidth":3,"opacity":1},"encoding":{"x":{"field":"ra","type":"quantitative","scale":{"domain":[144.149,143.101]},"axis":null},"y":{"field":"dec","type":"quantitative","scale":{"domain":[-17.854,-16.853]},"axis":null}}},
{"data":{"values":[{"ra":143.812,"dec":-17.617}]},"mark":{"type":"point","filled":false,"size":841,"color":"#f020e0","strokeWidth":3.6,"opacity":1},"encoding":{"x":{"field":"ra","type":"quantitative","scale":{"domain":[144.149,143.101]},"axis":null},"y":{"field":"dec","type":"quantitative","scale":{"domain":[-17.854,-16.853]},"axis":null}}},
{"data":{"values":[{"ra":143.787,"dec":-17.604}]},"mark":{"type":"point","filled":false,"size":841,"color":"#14dcec","strokeWidth":3.6,"opacity":1},"encoding":{"x":{"field":"ra","type":"quantitative","scale":{"domain":[144.149,143.101]},"axis":null},"y":{"field":"dec","type":"quantitative","scale":{"domain":[-17.854,-16.853]},"axis":null}}},
{"data":{"name":"greenArrow"},"mark":{"type":"line","color":"#00e82a","strokeWidth":4},"encoding":{"x":{"field":"ra","type":"quantitative","scale":{"domain":[144.149,143.101]},"axis":null},"y":{"field":"dec","type":"quantitative","scale":{"domain":[-17.854,-16.853]},"axis":null},"order":{"field":"o"}}},
{"data":{"name":"cyanArrow"},"mark":{"type":"line","color":"#14e6ee","strokeWidth":4.5},"encoding":{"x":{"field":"ra","type":"quantitative","scale":{"domain":[144.149,143.101]},"axis":null},"y":{"field":"dec","type":"quantitative","scale":{"domain":[-17.854,-16.853]},"axis":null},"order":{"field":"o"}}},
{"data":{"name":"magentaArrow"},"mark":{"type":"line","color":"#ff40e8","strokeWidth":4.5},"encoding":{"x":{"field":"ra","type":"quantitative","scale":{"domain":[144.149,143.101]},"axis":null},"y":{"field":"dec","type":"quantitative","scale":{"domain":[-17.854,-16.853]},"axis":null},"order":{"field":"o"}}},
{"data":{"values":[{"ra":143.503,"dec":-17.037,"t":"2WHSP J093430.1-172120"}]},"mark":{"type":"text","font":"Lato","fontSize":20,"color":"#7fe000"},"encoding":{"x":{"field":"ra","type":"quantitative","scale":{"domain":[144.149,143.101]},"axis":null},"y":{"field":"dec","type":"quantitative","scale":{"domain":[-17.854,-16.853]},"axis":null},"text":{"field":"t"}}},
{"data":{"values":[{"ra":143.350,"dec":-17.551,"t":"3FGL J0935.1-1736"}]},"mark":{"type":"text","font":"Lato","fontSize":18.5,"fontWeight":"bold","color":"#14e6ee"},"encoding":{"x":{"field":"ra","type":"quantitative","scale":{"domain":[144.149,143.101]},"axis":null},"y":{"field":"dec","type":"quantitative","scale":{"domain":[-17.854,-16.853]},"axis":null},"text":{"field":"t"}}},
{"data":{"values":[{"ra":143.958,"dec":-17.808,"t":"BZ-cand."}]},"mark":{"type":"text","font":"Lato","fontSize":20,"fontWeight":"bold","color":"#ff50e8"},"encoding":{"x":{"field":"ra","type":"quantitative","scale":{"domain":[144.149,143.101]},"axis":null},"y":{"field":"dec","type":"quantitative","scale":{"domain":[-17.854,-16.853]},"axis":null},"text":{"field":"t"}}},
{"data":{"values":[{"ra":143.257,"dec":-17.745,"t":"TS map"},{"ra":143.257,"dec":-17.811,"t":"3-500 GeV"}]},"mark":{"type":"text","font":"Lato","fontSize":20,"color":"#eeeeee"},"encoding":{"x":{"field":"ra","type":"quantitative","scale":{"domain":[144.149,143.101]},"axis":null},"y":{"field":"dec","type":"quantitative","scale":{"domain":[-17.854,-16.853]},"axis":null},"text":{"field":"t"}}}
]},
{"width":396,"height":397,"view":{"fill":"#000000"},"resolve":{"axis":{"x":"independent","y":"independent"}},"layer":[
{"data":{"name":"res"},"mark":{"type":"rect","width":20.2,"height":20.2,"clip":true},"encoding":{
"x":{"field":"ra","type":"quantitative","scale":{"domain":[144.149,143.101]},"axis":{"orient":"bottom","title":"Right ascension","titleX":194,"titlePadding":4,"labelPadding":8,"zindex":1,"domainColor":"#2222e0","domainWidth":2,"tickColor":"white","tickSize":-4,"values":[144.075,144,143.925,143.85,143.775,143.7,143.625,143.55,143.475,143.4,143.325,143.25,143.175],"labelExpr":"abs(datum.value-144)<0.001?'144.0':abs(datum.value-143.7)<0.001?'143.7':abs(datum.value-143.4)<0.001?'143.4':''"}},
"y":{"field":"dec","type":"quantitative","scale":{"domain":[-17.854,-16.853]},"axis":{"orient":"left","title":"Declination","titlePadding":16,"labelPadding":16,"labelFontSize":27,"labelAngle":-90,"labelAlign":"center","labelBaseline":"bottom","labelOffset":4,"zindex":1,"domainColor":"#2222e0","domainWidth":2,"tickColor":"white","tickSize":-4,"values":[-16.95,-17.025,-17.1,-17.175,-17.25,-17.325,-17.4,-17.475,-17.55,-17.625,-17.7,-17.775],"labelExpr":"abs(datum.value+17.1)<0.001?'-17.1':abs(datum.value+17.4)<0.001?'-17.4':abs(datum.value+17.7)<0.001?'-17.7':''"}},
"color":{"field":"v","type":"quantitative","legend":null,"scale":{"domain":[0,2.915,5.83,8.745,11.66],"range":["#000000","#0000ff","#ff0000","#ffff00","#ffffff"],"interpolate":"rgb"}}}},
{"data":{"values":[{"ra":144.0},{"ra":143.7},{"ra":143.4}]},"mark":{"type":"rule","color":"#22d82a","strokeWidth":1.5,"strokeDash":[9,6]},"encoding":{"x":{"field":"ra","type":"quantitative","scale":{"domain":[144.149,143.101]},"axis":{"orient":"top","title":null,"labels":false,"zindex":1,"domainColor":"#2222e0","domainWidth":2,"tickColor":"white","tickSize":-4,"values":[144.075,144,143.925,143.85,143.775,143.7,143.625,143.55,143.475,143.4,143.325,143.25,143.175]}}}},
{"data":{"values":[{"dec":-17.1},{"dec":-17.4},{"dec":-17.7}]},"mark":{"type":"rule","color":"#22d82a","strokeWidth":1.5,"strokeDash":[9,6]},"encoding":{"y":{"field":"dec","type":"quantitative","scale":{"domain":[-17.854,-16.853]},"axis":{"orient":"right","title":null,"labels":false,"zindex":1,"domainColor":"#2222e0","domainWidth":2,"tickColor":"white","tickSize":-4,"values":[-16.95,-17.025,-17.1,-17.175,-17.25,-17.325,-17.4,-17.475,-17.55,-17.625,-17.7,-17.775]}}}},
{"data":{"values":[{"ra":143.611,"dec":-17.339}]},"mark":{"type":"point","filled":false,"size":11449,"color":"#22e02a","strokeWidth":3,"strokeDash":[8,6],"opacity":1},"encoding":{"x":{"field":"ra","type":"quantitative","scale":{"domain":[144.149,143.101]},"axis":null},"y":{"field":"dec","type":"quantitative","scale":{"domain":[-17.854,-16.853]},"axis":null}}},
{"data":{"values":[{"ra":143.619,"dec":-17.342}]},"mark":{"type":"point","filled":false,"size":6241,"color":"#22e02a","strokeWidth":3,"strokeDash":[8,6],"opacity":1},"encoding":{"x":{"field":"ra","type":"quantitative","scale":{"domain":[144.149,143.101]},"axis":null},"y":{"field":"dec","type":"quantitative","scale":{"domain":[-17.854,-16.853]},"axis":null}}},
{"data":{"values":[{"ra":143.609,"dec":-17.339}]},"mark":{"type":"point","filled":false,"size":2116,"color":"#22e02a","strokeWidth":2.6,"strokeDash":[7,5],"opacity":1},"encoding":{"x":{"field":"ra","type":"quantitative","scale":{"domain":[144.149,143.101]},"axis":null},"y":{"field":"dec","type":"quantitative","scale":{"domain":[-17.854,-16.853]},"axis":null}}},
{"data":{"values":[{"ra":143.627,"dec":-17.355}]},"mark":{"type":"point","filled":false,"size":961,"color":"#22e02a","strokeWidth":4,"opacity":1},"encoding":{"x":{"field":"ra","type":"quantitative","scale":{"domain":[144.149,143.101]},"axis":null},"y":{"field":"dec","type":"quantitative","scale":{"domain":[-17.854,-16.853]},"axis":null}}},
{"data":{"values":[{"ra":143.627,"dec":-17.355}]},"mark":{"type":"point","filled":false,"shape":"M-1,0H1M0,-1V1","size":441,"color":"#8fe01e","strokeWidth":3,"opacity":1},"encoding":{"x":{"field":"ra","type":"quantitative","scale":{"domain":[144.149,143.101]},"axis":null},"y":{"field":"dec","type":"quantitative","scale":{"domain":[-17.854,-16.853]},"axis":null}}},
{"data":{"values":[{"ra":143.812,"dec":-17.617}]},"mark":{"type":"point","filled":false,"size":841,"color":"#f020e0","strokeWidth":3.6,"opacity":1},"encoding":{"x":{"field":"ra","type":"quantitative","scale":{"domain":[144.149,143.101]},"axis":null},"y":{"field":"dec","type":"quantitative","scale":{"domain":[-17.854,-16.853]},"axis":null}}},
{"data":{"values":[{"ra":143.787,"dec":-17.604}]},"mark":{"type":"point","filled":false,"size":841,"color":"#14dcec","strokeWidth":3.6,"opacity":1},"encoding":{"x":{"field":"ra","type":"quantitative","scale":{"domain":[144.149,143.101]},"axis":null},"y":{"field":"dec","type":"quantitative","scale":{"domain":[-17.854,-16.853]},"axis":null}}},
{"data":{"name":"greenArrow"},"mark":{"type":"line","color":"#00e82a","strokeWidth":2.6},"encoding":{"x":{"field":"ra","type":"quantitative","scale":{"domain":[144.149,143.101]},"axis":null},"y":{"field":"dec","type":"quantitative","scale":{"domain":[-17.854,-16.853]},"axis":null},"order":{"field":"o"}}},
{"data":{"name":"cyanArrow"},"mark":{"type":"line","color":"#14e6ee","strokeWidth":4.5},"encoding":{"x":{"field":"ra","type":"quantitative","scale":{"domain":[144.149,143.101]},"axis":null},"y":{"field":"dec","type":"quantitative","scale":{"domain":[-17.854,-16.853]},"axis":null},"order":{"field":"o"}}},
{"data":{"name":"magentaArrow"},"mark":{"type":"line","color":"#ff40e8","strokeWidth":4.5},"encoding":{"x":{"field":"ra","type":"quantitative","scale":{"domain":[144.149,143.101]},"axis":null},"y":{"field":"dec","type":"quantitative","scale":{"domain":[-17.854,-16.853]},"axis":null},"order":{"field":"o"}}},
{"data":{"values":[{"ra":143.503,"dec":-17.042,"t":"2WHSP J093430.1-172120"}]},"mark":{"type":"text","font":"Lato","fontSize":20,"color":"#7fe000"},"encoding":{"x":{"field":"ra","type":"quantitative","scale":{"domain":[144.149,143.101]},"axis":null},"y":{"field":"dec","type":"quantitative","scale":{"domain":[-17.854,-16.853]},"axis":null},"text":{"field":"t"}}},
{"data":{"values":[{"ra":143.350,"dec":-17.556,"t":"3FGL J0935.1-1736"}]},"mark":{"type":"text","font":"Lato","fontSize":18.5,"fontWeight":"bold","color":"#14e6ee"},"encoding":{"x":{"field":"ra","type":"quantitative","scale":{"domain":[144.149,143.101]},"axis":null},"y":{"field":"dec","type":"quantitative","scale":{"domain":[-17.854,-16.853]},"axis":null},"text":{"field":"t"}}},
{"data":{"values":[{"ra":143.958,"dec":-17.813,"t":"BZ-cand."}]},"mark":{"type":"text","font":"Lato","fontSize":20,"fontWeight":"bold","color":"#ff50e8"},"encoding":{"x":{"field":"ra","type":"quantitative","scale":{"domain":[144.149,143.101]},"axis":null},"y":{"field":"dec","type":"quantitative","scale":{"domain":[-17.854,-16.853]},"axis":null},"text":{"field":"t"}}},
{"data":{"values":[{"ra":143.249,"dec":-17.750,"t":"Residual"},{"ra":143.249,"dec":-17.813,"t":"3-500 GeV"}]},"mark":{"type":"text","font":"Lato","fontSize":20,"color":"#eeeeee"},"encoding":{"x":{"field":"ra","type":"quantitative","scale":{"domain":[144.149,143.101]},"axis":null},"y":{"field":"dec","type":"quantitative","scale":{"domain":[-17.854,-16.853]},"axis":null},"text":{"field":"t"}}}
]}
]}
]},
{"spacing":2,"resolve":{"scale":{"color":"independent"}},"hconcat":[
{"width":1,"height":1,"data":{"values":[{"a":1}]},"mark":{"type":"point","opacity":0},"encoding":{}},
{"spacing":44,"resolve":{"scale":{"color":"independent"}},"hconcat":[
{"width":500,"height":22,"view":{"stroke":"#888888"},"data":{"name":"cbL"},"mark":{"type":"rect","width":5.6,"clip":true},"encoding":{"x":{"field":"v","type":"quantitative","scale":{"domain":[0,100]},"axis":{"title":null,"values":[0,10,20,30,40,50,60,70,80,90,100],"labelExpr":"datum.value==0||datum.value==100?'':format(datum.value,'d')","labelFont":"Lato","labelFontSize":25,"labelPadding":8,"domainColor":"#888888","tickColor":"#888888","tickSize":3}},"color":{"field":"v","type":"quantitative","legend":null,"scale":{"domain":[0,25,50,75,100],"range":["#000000","#0000ff","#ff0000","#ffff00","#ffffff"],"interpolate":"rgb"}}}},
{"width":556,"height":22,"view":{"stroke":"#888888"},"data":{"name":"cbR"},"mark":{"type":"rect","width":6.2,"clip":true},"encoding":{"x":{"field":"v","type":"quantitative","scale":{"domain":[0,11.66]},"axis":{"title":null,"values":[0,1.17,2.33,3.5,4.66,5.83,7.0,8.16,9.33,10.5],"labelExpr":"datum.value==0?'':datum.value>10?'11':format(datum.value,'.1f')","labelFont":"Lato","labelFontSize":25,"labelPadding":8,"domainColor":"#888888","tickColor":"#888888","tickSize":3}},"color":{"field":"v","type":"quantitative","legend":null,"scale":{"domain":[0,2.915,5.83,8.745,11.66],"range":["#000000","#0000ff","#ff0000","#ffff00","#ffffff"],"interpolate":"rgb"}}}}
]}
]}
]}
